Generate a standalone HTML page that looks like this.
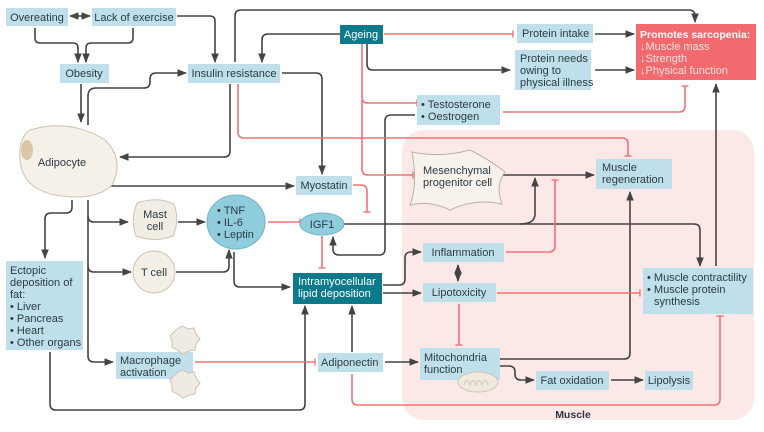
<!DOCTYPE html>
<html><head><meta charset="utf-8"><style>
body{margin:0;background:#fff;}
svg{display:block;font-family:"Liberation Sans",sans-serif;}
.b{fill:#bfe0ea;}
.t{font-size:11px;fill:#2b3a45;}
.d{fill:none;stroke:#444;stroke-width:1.6;}
.r{fill:none;stroke:#f07377;stroke-width:1.6;}
.w{font-size:11px;fill:#fff;}
</style></head><body>
<svg width="764" height="432" viewBox="0 0 764 432">
<defs>
<marker id="a" viewBox="0 0 10 10" refX="9" refY="5" markerWidth="6" markerHeight="6" orient="auto-start-reverse"><path d="M0,1 L10,5 L0,9 z" fill="#444"/></marker>
<marker id="h" viewBox="0 0 10 10" refX="5" refY="5" markerWidth="7" markerHeight="7" orient="auto" markerUnits="userSpaceOnUse"><path d="M5,0 V10" stroke="#f07377" stroke-width="2"/></marker>
</defs>
<rect x="402" y="130" width="352" height="290" rx="22" fill="#fce8e6"/>
<text x="573" y="418" font-size="10.5" font-weight="bold" fill="#2b3a45" text-anchor="middle">Muscle</text>

<g class="d" marker-end="url(#a)">
<path d="M70,16 H90" marker-start="url(#a)"/>
<path d="M35,28 V38 Q35,43 40,43 H73 Q78,43 78,48 V62"/>
<path d="M133,28 V38 Q133,43 128,43 H91 Q86,43 86,48 V62"/>
<path d="M177,16 H210 Q215,16 215,21 V62"/>
<path d="M235,62 V16 Q235,10 241,10 H689 Q695,10 695,16 V22"/>
<path d="M340,34 H268 Q262,34 262,40 V62"/>
<path d="M367,44 V64 Q367,70 373,70 H510"/>
<path d="M81,84 V122"/>
<path d="M88,125 V96 Q88,88 96,88 H144 Q150,88 150,82 V79 Q150,73 156,73 H186"/>
<path d="M230,84 V151 Q230,157 224,157 H120"/>
<path d="M282,73 H316 Q322,73 322,79 V174"/>
<path d="M110,186 H294"/>
<path d="M72,200 V207 Q72,213 66,213 H51 Q45,213 45,219 V258"/>
<path d="M88,200 V216 Q88,222 94,222 H128"/>
<path d="M88,216 V266 Q88,272 94,272 H131"/>
<path d="M88,266 V356 Q88,362 94,362 H113"/>
<path d="M178,222 H205"/>
<path d="M176,272 H223 Q229,272 229,266 V250"/>
<path d="M234,252 V281 Q234,287 240,287 H290"/>
<path d="M415,115 H391 Q385,115 385,121 V249 Q385,255 379,255 H339 Q333,255 333,249 V237"/>
<path d="M50,352 V404 Q50,410 56,410 H299 Q305,410 305,404 V306"/>
<path d="M352,352 V306"/>
<path d="M385,362 H418"/>
<path d="M383,285 H399 Q405,285 405,279 V258 Q405,252 411,252 H421"/>
<path d="M383,293 H421"/>
<path d="M458,265 V281" marker-start="url(#a)"/>
<path d="M344,224 H694 Q700,224 700,230 V266"/>
<path d="M520,224 Q535,224 535,214 V178"/>
<path d="M497,175 H594"/>
<path d="M500,359 H624 Q630,359 630,353 V192"/>
<path d="M500,366 H509 Q515,366 515,372 V374 Q515,380 521,380 H534"/>
<path d="M611,380 H643"/>
<path d="M716,266 V84"/>
<path d="M595,34 H634"/>
<path d="M595,70 H634"/>
</g>
<g class="r" marker-end="url(#h)">
<path d="M384,34 H513"/>
<path d="M362,44 V97 Q362,103 368,103 H417"/>
<path d="M362,100 V169 Q362,175 368,175 H413"/>
<path d="M238,84 V132 Q238,138 244,138 H622 Q628,138 628,144 V156"/>
<path d="M503,112 H679 Q685,112 685,106 V86"/>
<path d="M268,222 H300"/>
<path d="M353,185 H361 Q367,185 367,191 V212"/>
<path d="M322,236 V268"/>
<path d="M195,362 H315"/>
<path d="M352,374 V399 Q352,405 358,405 H714 Q720,405 720,399 V316"/>
<path d="M506,252 H549 Q555,252 555,246 V180"/>
<path d="M459,304 V345"/>
<path d="M497,293 H640"/>
</g>

<rect class="b" x="6" y="8" width="62" height="18"/><text class="t" x="37" y="21" text-anchor="middle">Overeating</text>
<rect class="b" x="92" y="8" width="84" height="18"/><text class="t" x="134" y="21" text-anchor="middle">Lack of exercise</text>
<rect class="b" x="60" y="64" width="49" height="19"/><text class="t" x="84" y="77" text-anchor="middle">Obesity</text>
<rect class="b" x="188" y="64" width="92" height="19"/><text class="t" x="234" y="77" text-anchor="middle">Insulin resistance</text>
<rect x="340" y="25" width="43" height="19" fill="#0d7a8c"/><text class="w" x="361" y="38" text-anchor="middle">Ageing</text>
<rect class="b" x="517" y="24" width="76" height="19"/><text class="t" x="522" y="37">Protein intake</text>
<rect class="b" x="515" y="50" width="76" height="40"/><text class="t" x="520" y="62">Protein needs</text><text class="t" x="520" y="74">owing to</text><text class="t" x="520" y="86">physical illness</text>
<rect x="636" y="24" width="120" height="56" fill="#f26a6e"/>
<text x="640" y="38" font-size="10.5" font-weight="bold" fill="#fff">Promotes sarcopenia:</text>
<text x="640" y="50" font-size="11" fill="#fde0e0">↓Muscle mass</text>
<text x="640" y="62" font-size="11" fill="#fde0e0">↓Strength</text>
<text x="640" y="74" font-size="11" fill="#fde0e0">↓Physical function</text>
<rect class="b" x="417" y="95" width="83" height="30"/><text class="t" x="421" y="108">• Testosterone</text><text class="t" x="421" y="120">• Oestrogen</text>
<rect class="b" x="596" y="159" width="76" height="30"/><text class="t" x="602" y="171">Muscle</text><text class="t" x="602" y="183">regeneration</text>
<rect class="b" x="296" y="176" width="56" height="19"/><text class="t" x="324" y="189" text-anchor="middle">Myostatin</text>
<rect x="293" y="273" width="89" height="31" fill="#0d7a8c"/><text class="w" x="298" y="285">Intramyocellular</text><text class="w" x="298" y="297">lipid deposition</text>
<rect class="b" x="6" y="261" width="77" height="89"/>
<text class="t" x="10" y="274">Ectopic</text><text class="t" x="10" y="286">deposition of</text><text class="t" x="10" y="298">fat:</text><text class="t" x="10" y="310">• Liver</text><text class="t" x="10" y="322">• Pancreas</text><text class="t" x="10" y="334">• Heart</text><text class="t" x="10" y="346">• Other organs</text>
<rect class="b" x="116" y="352" width="77" height="27"/><text class="t" x="120" y="364">Macrophage</text><text class="t" x="120" y="376">activation</text>
<rect class="b" x="318" y="353" width="65" height="19"/><text class="t" x="321" y="366">Adiponectin</text>
<rect class="b" x="423" y="243" width="81" height="19"/><text class="t" x="463" y="256" text-anchor="middle">Inflammation</text>
<rect class="b" x="423" y="283" width="73" height="19"/><text class="t" x="459" y="296" text-anchor="middle">Lipotoxicity</text>
<rect class="b" x="420" y="348" width="80" height="32"/><text class="t" x="424" y="361">Mitochondria</text><text class="t" x="424" y="373">function</text>
<ellipse cx="478" cy="382" rx="20" ry="10" fill="#efe9df" stroke="#cfc6b6"/>
<path d="M464,385 q3,-9 6,0 q3,-9 6,0 q3,-9 6,0 q3,-9 6,0" fill="none" stroke="#cfc6b6"/>
<rect class="b" x="536" y="371" width="73" height="19"/><text class="t" x="572" y="384" text-anchor="middle">Fat oxidation</text>
<rect class="b" x="645" y="371" width="48" height="19"/><text class="t" x="669" y="384" text-anchor="middle">Lipolysis</text>
<rect class="b" x="643" y="268" width="110" height="46"/><text class="t" x="647" y="281">• Muscle contractility</text><text class="t" x="647" y="293">• Muscle protein</text><text class="t" x="654" y="305">synthesis</text>

<path d="M30,130 Q70,118 105,140 Q125,160 112,185 Q95,202 55,195 Q22,188 20,160 Q18,138 30,130 z" fill="#f5f0e8" stroke="#cdc3b3"/>
<ellipse cx="27" cy="150" rx="6" ry="10" fill="#d8c8a8"/>
<text class="t" x="62" y="166" text-anchor="middle">Adipocyte</text>
<path d="M412,152 Q440,158 470,150 Q490,160 505,172 Q495,185 502,204 Q475,198 450,210 Q430,200 410,205 Q418,185 412,152 z" fill="#f7f3ec" stroke="#b9b2a5"/>
<text class="t" x="423" y="174">Mesenchymal</text><text class="t" x="423" y="186">progenitor cell</text>
<path d="M137,203 Q158,196 174,204 Q180,220 173,236 Q155,243 136,236 Q130,220 137,203 z" fill="#f2ede4" stroke="#cdc3b3"/>
<text class="t" x="155" y="218" text-anchor="middle">Mast</text><text class="t" x="155" y="230" text-anchor="middle">cell</text>
<circle cx="154" cy="272" r="21" fill="#f3efe7" stroke="#cdc3b3"/><text class="t" x="154" y="276" text-anchor="middle">T cell</text>
<ellipse cx="236" cy="222" rx="29" ry="27" fill="#8fcddd" stroke="#6fb5c8"/>
<text class="t" x="217" y="214">• TNF</text><text class="t" x="217" y="226">• IL-6</text><text class="t" x="217" y="238">• Leptin</text>
<ellipse cx="322" cy="224" rx="22" ry="11" fill="#8fcddd" stroke="#6fb5c8"/><text class="t" x="322" y="228" text-anchor="middle">IGF1</text>
<path d="M176,330 l6,-4 l6,3 l6,-1 l2,6 l4,5 l-4,5 l-1,6 l-6,1 l-6,3 l-6,-4 l-5,-3 l0,-6 l-2,-5 z" fill="#efebe3" stroke="#cdc3b3"/>
<path d="M176,374 l6,-4 l6,3 l6,-1 l2,6 l4,5 l-4,5 l-1,6 l-6,1 l-6,3 l-6,-4 l-5,-3 l0,-6 l-2,-5 z" fill="#efebe3" stroke="#cdc3b3"/>
</svg>
</body></html>
